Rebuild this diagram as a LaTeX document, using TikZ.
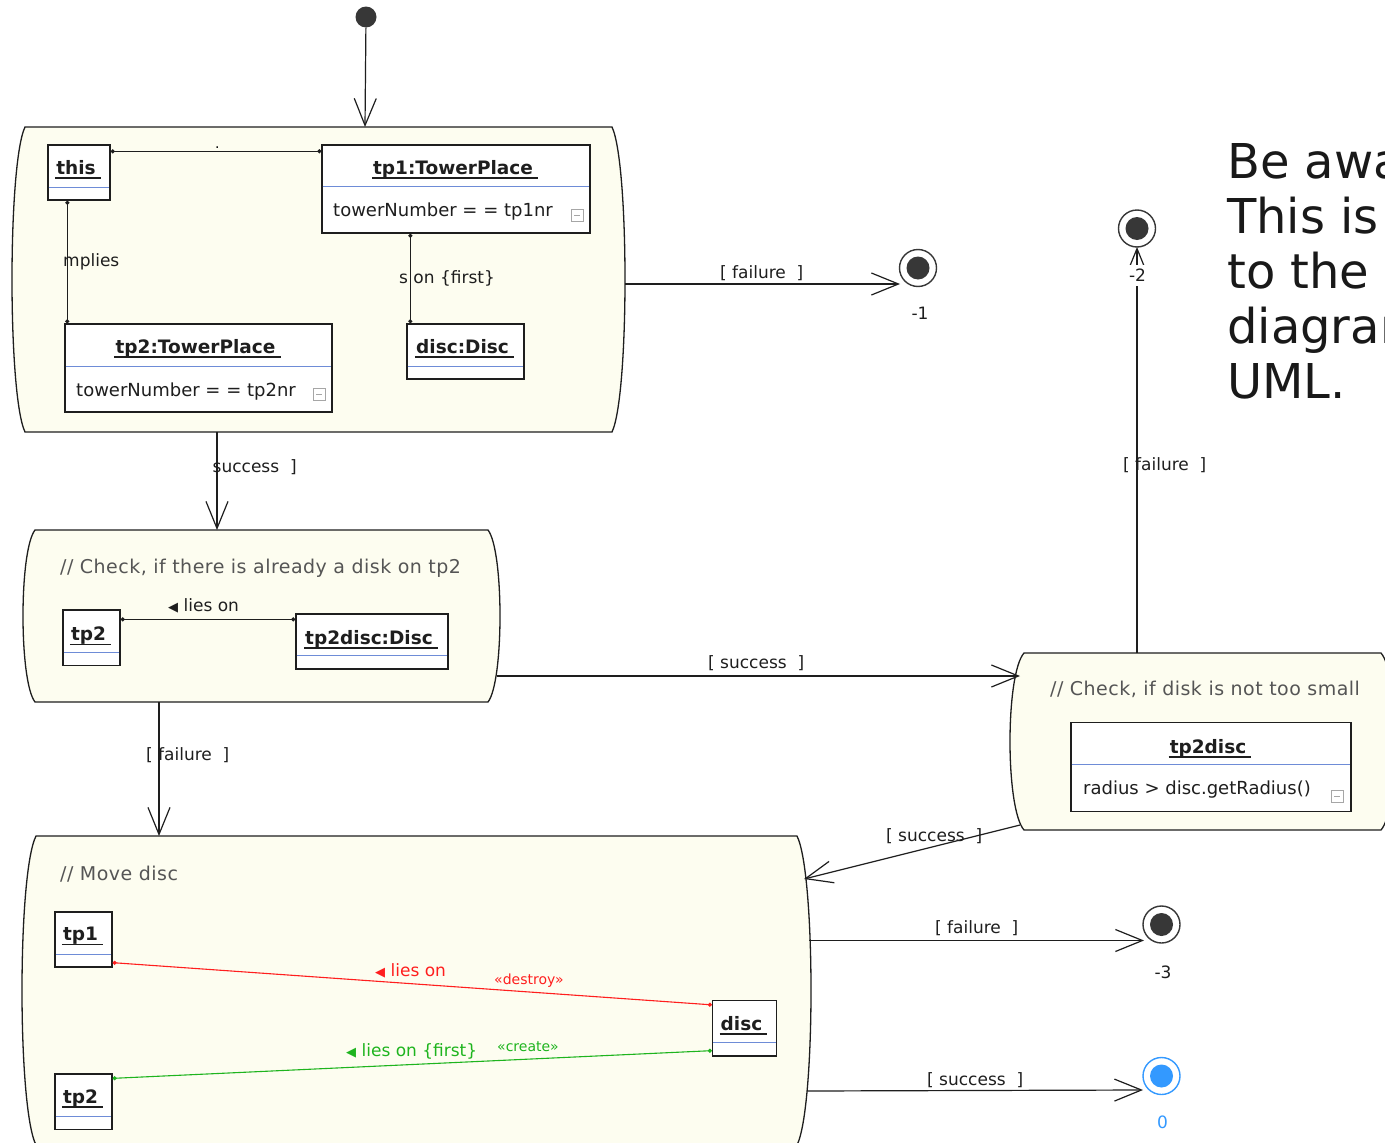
\documentclass[tikz,border=0pt]{standalone}
\usepackage{fontspec}
\setmainfont{DejaVu Sans}
\newfontfamily\cmtfont[LetterSpace=2.5]{DejaVu Sans}
\usetikzlibrary{arrows.meta}
\definecolor{statefill}{RGB}{253,253,240}
\definecolor{sepblue}{RGB}{110,140,215}
\definecolor{darkline}{RGB}{30,30,30}
\definecolor{cmtgray}{RGB}{85,85,85}
\definecolor{finalgray}{RGB}{55,55,55}
\definecolor{finalblue}{RGB}{51,153,255}
\definecolor{linkred}{RGB}{255,30,30}
\definecolor{linkgreen}{RGB}{30,180,30}
\newcommand\ustate[5]{% xl, xr, yt, yb, w0
  \pgfmathsetmacro\ua{#1+#5}\pgfmathsetmacro\ub{#2-#5}%
  \pgfmathsetmacro\uk{#1-#5/3}\pgfmathsetmacro\ul{#2+#5/3}%
  \pgfmathsetmacro\uh{(#4-#3)*0.12}%
  \filldraw[statebox] (\ua,#3) -- (\ub,#3) .. controls (\ul,#3+\uh) and (\ul,#4-\uh) .. (\ub,#4) -- (\ua,#4) .. controls (\uk,#4-\uh) and (\uk,#3+\uh) .. (\ua,#3) -- cycle;
}
\newcommand\uobj[8]{% name, cx, cy, w, h, title baseline, sep y, title
  \node[objbox, minimum width=#4pt, minimum height=#5pt] (#1) at (#2,#3) {};
  \node[objtitle] (#1t) at (#2-3,#6) {#8};
  \draw[darkline, line width=1.1pt] ([xshift=-1pt,yshift=-4pt]#1t.base west) -- ([xshift=5pt,yshift=-4pt]#1t.base east);
  \draw[sepblue, line width=1pt] ({#2-#4/2+0.7},#7) -- ({#2+#4/2-0.7},#7);
}
\newcommand\uicon[2]{%
  \draw[gray!70, line width=0.8pt] (#1,#2) rectangle ++(12,12);
  \draw[gray!70, line width=0.8pt] (#1+3,#2+6) -- (#1+9,#2+6);
}
\newcommand\tri{{\fontsize{13}{13}\selectfont ◀}}
\begin{document}
\begin{tikzpicture}[x=1pt,y=-1pt,
  statebox/.style={fill=statefill, draw=darkline, line width=1.3pt},
  objbox/.style={rectangle, draw=darkline, fill=white, line width=1.3pt, inner sep=0pt},
  objtitle/.style={font=\fontsize{18.5}{20}\selectfont\bfseries, anchor=base, inner sep=0pt, text=darkline},
  attr/.style={font=\fontsize{18}{20}\selectfont, anchor=base west, inner sep=0pt, text=darkline},
  lbl/.style={font=\fontsize{17}{19}\selectfont, anchor=base west, inner sep=0pt, text=darkline},
  small/.style={font=\fontsize{14}{16}\selectfont, anchor=base west, inner sep=0pt},
  cmt/.style={font=\fontsize{19}{21}\cmtfont, text=cmtgray, anchor=base west, inner sep=0pt},
  big/.style={font=\fontsize{48}{55}\selectfont, anchor=base west, inner sep=0pt, text=black!90},
  trans/.style={draw=darkline, line width=1.2pt, -{Straight Barb[length=27pt,width=22pt]}},
  link/.style={draw=darkline, line width=1.2pt, {Circle[length=4pt]}-{Circle[length=4pt]}},
  initial/.style={circle, fill=finalgray, minimum size=21pt, inner sep=0pt},
  final/.style={circle, draw=finalgray, fill=white, line width=1.4pt, minimum size=37pt, inner sep=0pt,
    path picture={\fill[finalgray] (path picture bounding box.center) circle (11.5);}},
  finalok/.style={circle, draw=finalblue, fill=white, line width=1.4pt, minimum size=37pt, inner sep=0pt,
    path picture={\fill[finalblue] (path picture bounding box.center) circle (11.5);}}
]
\useasboundingbox (0,0) rectangle (1385,1143);
\fill[white] (0,0) rectangle (1385,1143);
\clip (0,0) rectangle (1385,1143);

% ---------- states ----------
\ustate{12}{625}{127}{432}{13}
\ustate{23}{500}{530}{702}{12}
\ustate{1010}{1395}{653}{830}{14}
\ustate{22}{811}{836}{1145}{14}

% ---------- state 1 ----------
\uobj{this}{79}{172.5}{62}{55}{174}{187}{this}
\uobj{tp1}{456}{189}{268}{88}{174}{186.5}{tp1:TowerPlace}
\node[attr] (tp1a) at (333,216) {towerNumber = = tp1nr};
\uicon{571}{209}
\uobj{tp2}{198.5}{368}{267}{88}{353}{366.5}{tp2:TowerPlace}
\node[attr] (tp2a) at (76,396) {towerNumber = = tp2nr};
\uicon{313}{388}
\uobj{disc}{465.5}{351.5}{117}{55}{353}{366.5}{disc:Disc}

\draw[link] ([yshift=-7pt]this.north east) -- ([yshift=-7pt]tp1.north west);
\node[small] (dotl) at (215,148) {.};
\draw[link] ([xshift=20pt]this.south west) -- ([xshift=3pt]tp2.north west);
\node[lbl] (impl) at (63,266) {mplies};
\draw[link] ([xshift=89pt]tp1.south west) -- ([xshift=4pt]disc.north west);
\node[lbl] (lon1) at (399,283) {s on \{first\}};

% ---------- state 2 ----------
\node[cmt] (c2) at (60,573) {// Check, if there is already a disk on tp2};
\uobj{tp2b}{91.5}{637.75}{57}{55.5}{640.5}{652.3}{tp2}
\uobj{tp2disc}{372}{641.5}{152}{55}{644}{655.5}{tp2disc:Disc}
\draw[link] ([yshift=-10pt]tp2b.north east) -- ([yshift=-6pt]tp2disc.north west);
\node[lbl] (lon2) at (168,611) {\tri\ lies on};

% ---------- state 3 ----------
\node[cmt] (c3) at (1050,695) {// Check, if disk is not too small};
\uobj{tp2dc}{1211}{767}{280}{89}{753}{764.3}{tp2disc}
\node[attr] (tp2dca) at (1083,794) {radius > disc.getRadius()};
\uicon{1331}{790}

% ---------- state 4 ----------
\node[cmt] (c4) at (60,880) {// Move disc};
\uobj{tp1c}{83.5}{939.5}{57}{55}{940.5}{954}{tp1}
\uobj{tp2c}{83.5}{1101.75}{57}{55.5}{1103}{1116}{tp2}
\uobj{discc}{744.5}{1028.25}{64}{55.5}{1030}{1042.3}{disc}
\draw[link, draw=linkred, line width=1.1pt] ([yshift=5pt]tp1c.south east) -- ([yshift=-5pt]discc.north west);
\draw[link, draw=linkgreen, line width=1.1pt] ([yshift=-5pt]tp2c.north east) -- ([yshift=6pt]discc.south west);
\node[lbl, text=linkred] (lred) at (375,976) {\tri\ lies on};
\node[small, text=linkred] (sred) at (494,984) {«destroy»};
\node[lbl, text=linkgreen] (lgreen) at (346,1056.5) {\tri\ lies on \{first\}};
\node[small, text=linkgreen] (sgreen) at (497,1051) {«create»};

% ---------- initial / finals ----------
\node[initial] (init) at (366,17) {};
\node[final] (f1) at (918,268) {};
\node[final] (f2) at (1137,228.5) {};
\node[final] (f3) at (1161.5,924.5) {};
\node[finalok] (f0) at (1161.5,1076) {};

% ---------- transitions ----------
\coordinate (s1top) at (365,127);
\draw[trans] (init) -- (s1top);

\coordinate (s1r) at (625,284);
\coordinate (f1in) at (900,284);
\draw[trans] (s1r) -- (f1in);
\node[lbl] (lf1) at (720,278) {[ failure\ \ ]};
\node[lbl, anchor=base] (n1) at (920,319) {-1};

\coordinate (s1b) at (217,432);
\coordinate (s2t) at (217,530);
\draw[trans] (s1b) -- (s2t);
\node[lbl] (ls1) at (212.5,472) {success\ \ ]};

\coordinate (s2r) at (497,676);
\coordinate (s3l) at (1020,676);
\draw[trans] (s2r) -- (s3l);
\node[lbl] (ls2) at (708,668) {[ success\ \ ]};

\coordinate (s2b) at (159,702);
\coordinate (s4t) at (159,836);
\draw[trans] (s2b) -- (s4t);
\node[lbl] (lf2) at (146,760) {[ failure\ \ ]};

\coordinate (s3t) at (1137,653);
\coordinate (f2in) at (1137,247);
\draw[trans] (s3t) -- (f2in);
\node[lbl, anchor=base, fill=white, inner xsep=8pt, inner ysep=4pt] (n2) at (1137.5,281.5) {-2};
\node[lbl] (lf3) at (1123,470) {[ failure\ \ ]};

\coordinate (s3b) at (1020,825);
\coordinate (s4r) at (804,879);
\draw[trans] (s3b) -- (s4r);
\node[lbl] (ls3) at (886,841) {[ success\ \ ]};

\coordinate (s4f) at (809,940.5);
\coordinate (f3in) at (1144,940.5);
\draw[trans] (s4f) -- (f3in);
\node[lbl] (lf4) at (935,933.5) {[ failure\ \ ]};
\node[lbl, anchor=base] (n3) at (1163,978) {-3};

\coordinate (s4s) at (807,1091);
\coordinate (f0in) at (1143,1090);
\draw[trans] (s4s) -- (f0in);
\node[lbl] (ls4) at (927,1085) {[ success\ \ ]};
\node[lbl, anchor=base, text=finalblue] (n0) at (1162.5,1128) {0};

% ---------- note ----------
\node[big] (t1) at (1227,178) {Be aware};
\node[big] (t2) at (1227,233) {This is};
\node[big] (t3) at (1227,288) {to the};
\node[big] (t4) at (1227,343) {diagram};
\node[big] (t5) at (1227,398) {UML.};
\end{tikzpicture}
\end{document}
